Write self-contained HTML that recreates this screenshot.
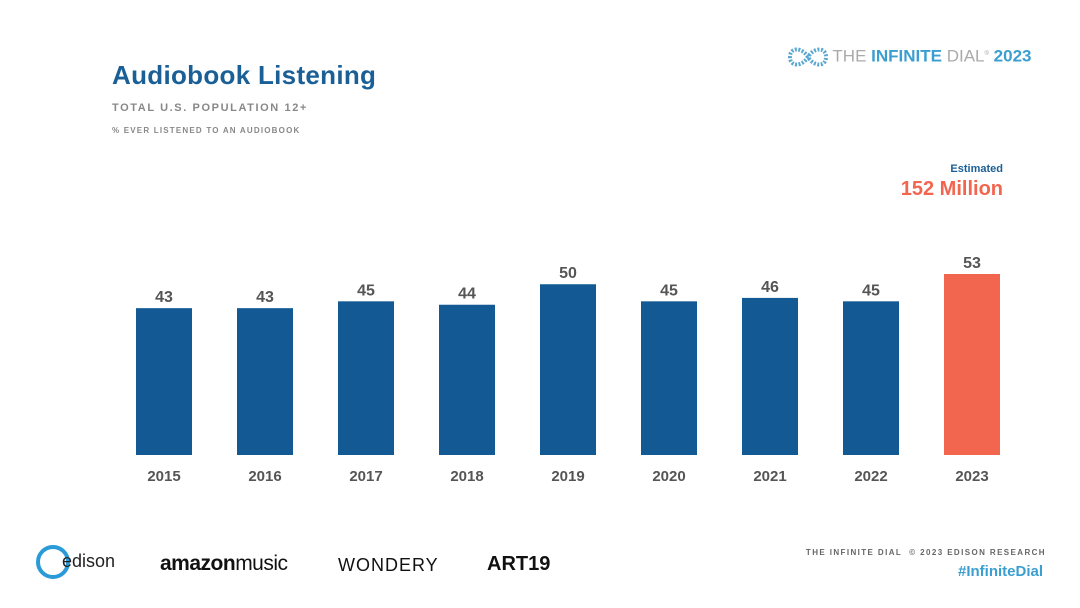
<!DOCTYPE html>
<html><head><meta charset="utf-8"><style>
body{margin:0;width:1080px;height:608px;background:#fff;font-family:"Liberation Sans","Noto Sans CJK SC",sans-serif;position:relative;overflow:hidden}
.a{position:absolute;white-space:nowrap}
</style></head><body>
<div class="a" style="left:112px;top:60px;font-size:26px;font-weight:bold;color:#1a5f96;letter-spacing:0.3px">Audiobook Listening</div>
<div class="a" style="left:112px;top:102px;font-size:11px;font-weight:bold;letter-spacing:1.6px;color:#888">TOTAL U.S. POPULATION 12+</div>
<div class="a" style="left:112px;top:126px;font-size:8px;font-weight:bold;letter-spacing:1.2px;color:#888">% EVER LISTENED TO AN AUDIOBOOK</div>
<div class="a" style="left:788px;top:44px;font-size:17px;color:#aaa">
<svg width="40" height="26" style="vertical-align:middle"><path d="M20 13 C14 3 2 3 2 13 C2 23 14 23 20 13 C26 3 38 3 38 13 C38 23 26 23 20 13Z" fill="none" stroke="#5aa8d0" stroke-width="4" stroke-dasharray="2 1.5"/></svg>
THE <b style="color:#3a9fd0">INFINITE</b> DIAL<sup style="font-size:6px">®</sup> <b style="color:#3a9fd0">2023</b></div>
<div class="a" style="right:77px;top:163px;font-size:11px;font-weight:bold;color:#1a5f96">Estimated</div>
<div class="a" style="right:77px;top:178px;font-size:20px;font-weight:bold;color:#f2654f">152 Million</div>
<svg id="c" class="a" style="left:0;top:0" width="1080" height="608"></svg>
<div class="a" style="left:36px;top:545px;font-size:18px;color:#222"><span style="display:inline-block;width:26px;height:26px;border:4px solid #2a9bd8;border-radius:50%;vertical-align:middle;margin-right:-8px"></span>edison</div>
<div class="a" style="left:160px;top:552px;font-size:21px;color:#111;letter-spacing:-0.5px"><b>amazon</b>music</div>
<div class="a" style="left:338px;top:555px;font-size:18px;color:#111;letter-spacing:1px">WONDERY</div>
<div class="a" style="left:487px;top:553px;font-size:20px;font-weight:bold;color:#111">ART19</div>
<div class="a" style="right:34px;top:548px;font-size:8px;font-weight:bold;letter-spacing:1.4px;color:#666">THE INFINITE DIAL &nbsp;© 2023 EDISON RESEARCH</div>
<div class="a" style="right:37px;top:563px;font-size:15px;font-weight:bold;color:#3a9fd0">#InfiniteDial</div>
<script>
const categories=["2015","2016","2017","2018","2019","2020","2021","2022","2023"];
const values=[43,43,45,44,50,45,46,45,53];
const highlight=[false,false,false,false,false,false,false,false,true];
const svg=document.getElementById('c');const ns="http://www.w3.org/2000/svg";
const base=455,scale=181/53,x0=164,step=101,bw=56;
const x=i=>x0+i*step, y=v=>base-v*scale;
categories.forEach((c,i)=>{
const r=document.createElementNS(ns,'rect');


r.setAttribute('x',x(i)-bw/2);r.setAttribute('y',y(values[i]));r.setAttribute('width',bw);r.setAttribute('height',base-y(values[i]));
r.setAttribute('fill',highlight[i]?'#f2654f':'#135a94');svg.appendChild(r);
const t=document.createElementNS(ns,'text');


t.setAttribute('x',x(i));t.setAttribute('y',y(values[i])-6);t.setAttribute('text-anchor','middle');
t.setAttribute('font-size','16');t.setAttribute('font-weight','bold');t.setAttribute('fill','#555');t.textContent=values[i];svg.appendChild(t);
const l=document.createElementNS(ns,'text');


l.setAttribute('x',x(i));l.setAttribute('y',481);l.setAttribute('text-anchor','middle');
l.setAttribute('font-size','15');l.setAttribute('font-weight','bold');l.setAttribute('fill','#555');l.textContent=c;svg.appendChild(l);
});
</script>
</body></html>
